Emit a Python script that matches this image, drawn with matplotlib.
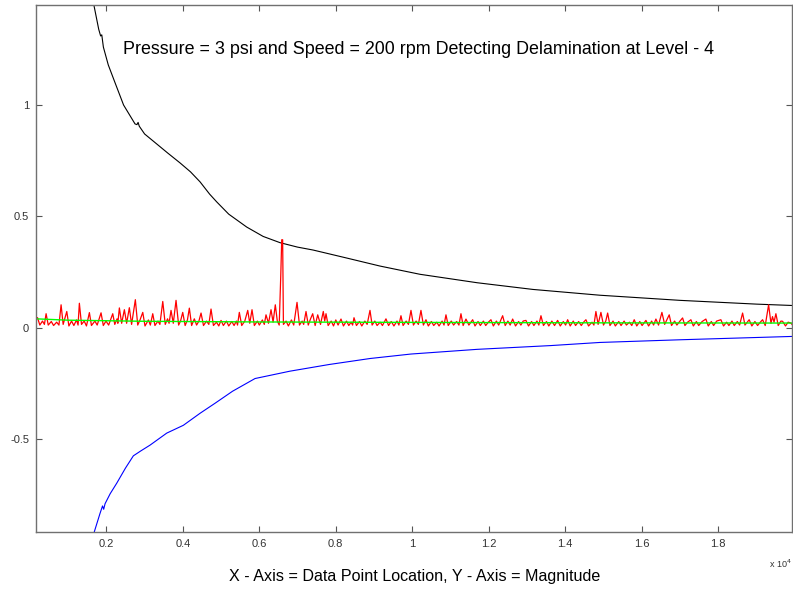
import matplotlib
matplotlib.use("Agg")
import matplotlib.pyplot as plt

plt.rcParams['font.family'] = ['Liberation Sans', 'DejaVu Sans']

# x limits in data points, y limits in magnitude
x_range = (160, 19930)
y_range = (-0.917, 1.449)

x_ticks = [2000, 4000, 6000, 8000, 10000, 12000, 14000, 16000, 18000]
x_tick_labels = ['0.2', '0.4', '0.6', '0.8', '1', '1.2', '1.4', '1.6', '1.8']
y_ticks = [-0.5, 0, 0.5, 1]
y_tick_labels = ['-0.5', '0', '0.5', '1']

# upper threshold (black)
upper_x = [1500, 1678, 1800, 1850, 1880, 1922, 2050, 2227, 2450, 2750, 2800, 2830, 2860,
           3000, 3318, 3600, 3927, 4200, 4450, 4700, 4886, 5200, 5671, 6100, 6541,
           7000, 7404, 8285, 9155, 10201, 11700, 13156, 14908, 17000, 19008, 19930]
upper_y = [1.60, 1.445, 1.34, 1.31, 1.315, 1.26, 1.18, 1.10, 1.00, 0.915, 0.912, 0.922, 0.905,
           0.87, 0.825, 0.785, 0.740, 0.700, 0.655, 0.600, 0.565, 0.510, 0.452, 0.410, 0.382,
           0.362, 0.349, 0.313, 0.277, 0.240, 0.202, 0.172, 0.146, 0.123, 0.106, 0.100]

# lower threshold (blue)
lower_x = [1500, 1683, 1835, 1900, 1930, 1966, 2100, 2271, 2500, 2706, 2900, 3142, 3579,
           4013, 4450, 4842, 5300, 5888, 6800, 7826, 8900, 9967, 11692, 13627, 14908,
           17000, 19930]
lower_y = [-1.05, -0.917, -0.833, -0.80, -0.815, -0.79, -0.745, -0.698, -0.630, -0.575,
           -0.553, -0.527, -0.473, -0.438, -0.384, -0.339, -0.285, -0.228, -0.195, -0.165,
           -0.138, -0.118, -0.097, -0.080, -0.066, -0.054, -0.039]

# mean level (green)
mean_x = [160, 1000, 3000, 6000, 10000, 15000, 19930]
mean_y = [0.040, 0.034, 0.029, 0.026, 0.024, 0.022, 0.021]

# measured signal (red), (data point, magnitude)
signal = [
    (200, 0.045), (260, 0.012), (330, 0.030), (380, 0.015), (424, 0.063), (480, 0.012),
    (560, 0.028), (620, 0.010), (700, 0.025), (760, 0.012), (816, 0.103), (870, 0.015),
    (965, 0.073), (1020, 0.008), (1090, 0.030), (1150, 0.010), (1220, 0.035), (1260, 0.012),
    (1294, 0.110), (1350, 0.015), (1420, 0.030), (1480, 0.008), (1556, 0.068), (1610, 0.010),
    (1700, 0.030), (1760, 0.012), (1861, 0.067), (1920, 0.010), (1990, 0.030), (2060, 0.012),
    (2167, 0.063), (2220, 0.015), (2280, 0.040), (2300, 0.020), (2340, 0.089), (2400, 0.020),
    (2471, 0.081), (2530, 0.020), (2601, 0.090), (2660, 0.015), (2758, 0.126), (2820, 0.012),
    (2880, 0.035), (2952, 0.069), (3010, 0.008), (3100, 0.035), (3150, 0.012), (3213, 0.063),
    (3270, 0.010), (3350, 0.030), (3400, 0.015), (3475, 0.118), (3540, 0.015), (3600, 0.040),
    (3640, 0.020), (3691, 0.078), (3750, 0.020), (3822, 0.123), (3890, 0.012), (3940, 0.030),
    (3997, 0.069), (4060, 0.010), (4120, 0.035), (4170, 0.088), (4230, 0.010), (4300, 0.040),
    (4360, 0.012), (4420, 0.030), (4476, 0.066), (4540, 0.010), (4620, 0.030), (4680, 0.015),
    (4737, 0.084), (4800, 0.010), (4880, 0.025), (4940, 0.008), (4999, 0.033), (5060, 0.010),
    (5140, 0.030), (5200, 0.008), (5280, 0.028), (5340, 0.010), (5400, 0.030), (5430, 0.012),
    (5477, 0.069), (5540, 0.010), (5620, 0.030), (5697, 0.078), (5750, 0.020), (5809, 0.081),
    (5870, 0.010), (5950, 0.030), (6000, 0.012), (6080, 0.035), (6130, 0.015), (6175, 0.058),
    (6240, 0.020), (6306, 0.081), (6360, 0.025), (6418, 0.103), (6470, 0.030), (6520, 0.012),
    (6560, 0.230), (6586, 0.395), (6610, 0.395), (6630, 0.015), (6700, 0.030), (6760, 0.008),
    (6840, 0.035), (6900, 0.012), (6986, 0.114), (7050, 0.012), (7120, 0.030), (7160, 0.015),
    (7221, 0.073), (7280, 0.012), (7340, 0.040), (7396, 0.063), (7460, 0.010), (7527, 0.058),
    (7600, 0.015), (7673, 0.073), (7710, 0.030), (7744, 0.063), (7800, 0.010), (7880, 0.030),
    (7940, 0.008), (8000, 0.035), (8060, 0.012), (8136, 0.039), (8200, 0.008), (8280, 0.030),
    (8340, 0.010), (8400, 0.025), (8440, 0.012), (8476, 0.045), (8540, 0.010), (8620, 0.028),
    (8680, 0.008), (8760, 0.030), (8820, 0.015), (8894, 0.078), (8950, 0.012), (9020, 0.030),
    (9080, 0.010), (9160, 0.025), (9220, 0.010), (9312, 0.040), (9380, 0.010), (9450, 0.028),
    (9520, 0.008), (9600, 0.030), (9650, 0.012), (9704, 0.054), (9760, 0.010), (9840, 0.030),
    (9900, 0.015), (9966, 0.078), (10030, 0.012), (10100, 0.030), (10160, 0.015), (10227, 0.078),
    (10290, 0.012), (10358, 0.036), (10420, 0.008), (10500, 0.028), (10560, 0.010), (10640, 0.025),
    (10700, 0.008), (10780, 0.030), (10830, 0.012), (10881, 0.058), (10940, 0.010), (11020, 0.030),
    (11080, 0.012), (11160, 0.028), (11220, 0.012), (11273, 0.063), (11330, 0.010), (11404, 0.039),
    (11480, 0.012), (11579, 0.036), (11640, 0.008), (11720, 0.028), (11780, 0.010), (11860, 0.030),
    (11920, 0.010), (11990, 0.025), (12057, 0.036), (12120, 0.008), (12200, 0.030), (12260, 0.012),
    (12363, 0.054), (12430, 0.010), (12500, 0.030), (12560, 0.012), (12625, 0.039), (12700, 0.008),
    (12780, 0.028), (12840, 0.012), (12900, 0.030), (12972, 0.033), (13040, 0.008), (13120, 0.028),
    (13180, 0.010), (13260, 0.030), (13310, 0.012), (13365, 0.054), (13430, 0.010), (13510, 0.028),
    (13570, 0.008), (13650, 0.030), (13720, 0.010), (13801, 0.033), (13870, 0.008), (13950, 0.028),
    (14010, 0.012), (14063, 0.036), (14130, 0.008), (14210, 0.030), (14270, 0.010), (14350, 0.028),
    (14420, 0.010), (14480, 0.025), (14541, 0.036), (14610, 0.008), (14700, 0.025), (14750, 0.012),
    (14802, 0.073), (14860, 0.015), (14933, 0.069), (15000, 0.012), (15060, 0.030), (15109, 0.066),
    (15170, 0.010), (15250, 0.030), (15310, 0.008), (15400, 0.028), (15460, 0.010), (15540, 0.030),
    (15600, 0.012), (15680, 0.025), (15740, 0.010), (15804, 0.036), (15870, 0.008), (15950, 0.028),
    (16010, 0.010), (16110, 0.033), (16180, 0.008), (16260, 0.030), (16310, 0.012), (16371, 0.039),
    (16440, 0.012), (16528, 0.069), (16600, 0.015), (16719, 0.058), (16780, 0.010), (16860, 0.030),
    (16920, 0.012), (17000, 0.030), (17069, 0.044), (17130, 0.010), (17200, 0.025), (17286, 0.036),
    (17350, 0.008), (17430, 0.028), (17490, 0.010), (17580, 0.028), (17678, 0.039), (17740, 0.008),
    (17820, 0.028), (17880, 0.010), (17960, 0.030), (18070, 0.036), (18140, 0.008), (18220, 0.025),
    (18280, 0.010), (18360, 0.030), (18420, 0.010), (18500, 0.028), (18560, 0.012), (18638, 0.066),
    (18700, 0.012), (18810, 0.036), (18880, 0.008), (18960, 0.028), (19030, 0.010), (19100, 0.025),
    (19161, 0.036), (19230, 0.010), (19318, 0.103), (19380, 0.020), (19420, 0.050), (19460, 0.025),
    (19509, 0.063), (19570, 0.010), (19640, 0.030), (19684, 0.029), (19760, 0.008), (19830, 0.025),
    (19901, 0.021), (19930, 0.015),
]
signal_x = [p[0] for p in signal]
signal_y = [p[1] for p in signal]

title = 'Pressure = 3 psi and Speed = 200 rpm Detecting Delamination at Level - 4'
xlabel = 'X - Axis = Data Point Location, Y - Axis = Magnitude'

fig = plt.figure(figsize=(7.93, 5.94), dpi=100)
ax = fig.add_axes([36 / 793, 1 - 532 / 594, 756 / 793, 527 / 594])

ax.plot(upper_x, upper_y, color='black', lw=0.8)
ax.plot(lower_x, lower_y, color='#0000ff', lw=0.8)
ax.plot(signal_x, signal_y, color='#ff0000', lw=0.9)
ax.plot(mean_x, mean_y, color='#00ff00', lw=1.0)

ax.set_xlim(*x_range)
ax.set_ylim(*y_range)
ax.set_xticks(x_ticks)
ax.set_xticklabels(x_tick_labels)
ax.set_yticks(y_ticks)
ax.set_yticklabels(y_tick_labels)

ax.tick_params(direction='in', length=4, width=0.8, colors='#555555',
               labelsize=8, top=True, right=True, pad=5)
for lab in ax.get_xticklabels() + ax.get_yticklabels():
    lab.set_color('#333333')
for s in ax.spines.values():
    s.set_color('#707070')
    s.set_linewidth(1.0)

ax.text(0.5055, 0.915, title, transform=ax.transAxes, ha='center', va='center',
        fontsize=12.9, color='black')
ax.text(1.0, -0.06, r'x 10$^{4}$', transform=ax.transAxes, ha='right', va='center',
        fontsize=6.5, color='#333333')
fig.text(415 / 793, 1 - 577 / 594, xlabel, ha='center', va='center',
         fontsize=11.6, color='black')

fig.savefig('out.png', dpi=100)
